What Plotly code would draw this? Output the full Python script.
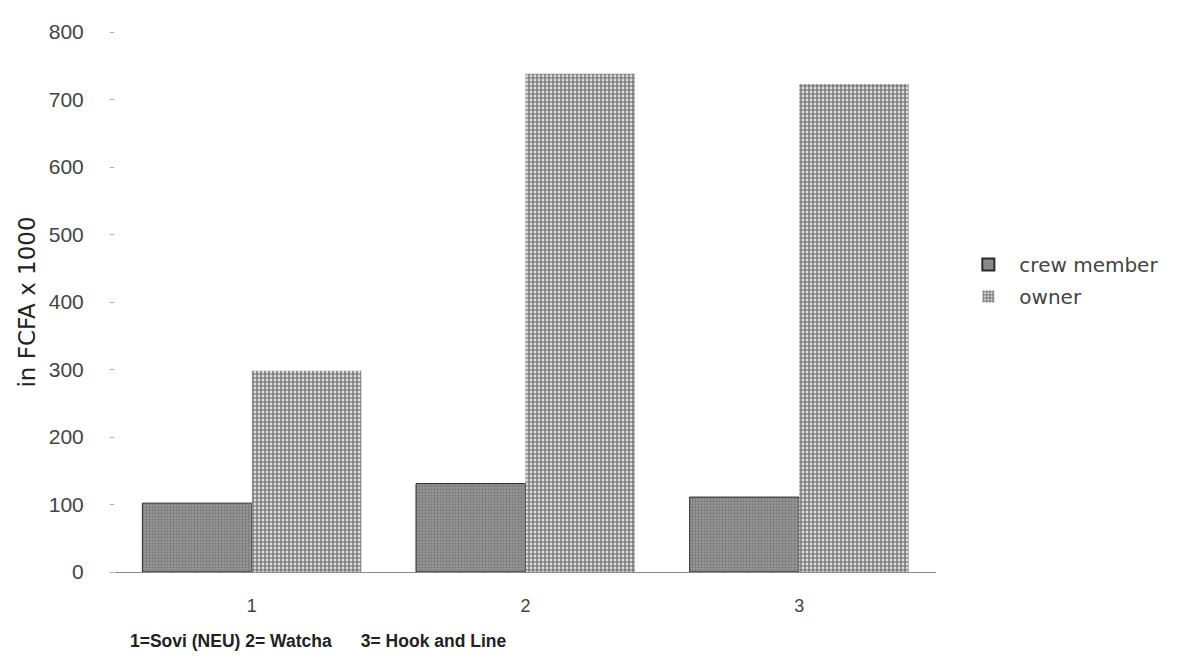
import plotly.graph_objects as go

categories = ["1", "2", "3"]
crew_member = [102, 131, 111]
owner = [298, 738, 723]
y_ticks = [0, 100, 200, 300, 400, 500, 600, 700, 800]
x_title = "1=Sovi (NEU) 2= Watcha\u00a0\u00a0\u00a0\u00a0\u00a0 3= Hook and Line"
y_title = "in FCFA x 1000"

fig = go.Figure()
fig.add_trace(go.Bar(
    x=categories, y=crew_member, name="crew member", legendgroup="a",
    marker=dict(color="#7a7a7a",
                line=dict(color="#2a2a2a", width=1),
                pattern=dict(shape=".", fgcolor="#565656", bgcolor="#999999",
                             size=3, solidity=0.45)),
))
fig.add_trace(go.Bar(
    x=categories, y=owner, name="owner", legendgroup="b",
    marker=dict(color="white",
                line=dict(color="#bbbbbb", width=0),
                pattern=dict(shape=".", fgcolor="#000000", bgcolor="white",
                             size=4, solidity=0.7)),
))

fig.update_layout(
    width=1186, height=668,
    paper_bgcolor="white", plot_bgcolor="white",
    margin=dict(l=107, r=258, t=22, b=104),
    barmode="group", bargap=0.2, bargroupgap=0,
    font=dict(family="Liberation Sans, Arial, sans-serif", size=18, color="#444444"),
    showlegend=True,
    legend=dict(x=1.026, y=0.54, xanchor="left", yanchor="middle",
                font=dict(size=20, color="#444444", family="DejaVu Sans, sans-serif"),
                itemsizing="constant", itemwidth=52, tracegroupgap=3,
                bgcolor="rgba(0,0,0,0)"),
    xaxis=dict(
        type="category",
        showline=True, linecolor="#8a8a8a", linewidth=1,
        showgrid=False, ticks="outside", ticklen=17, tickcolor="rgba(0,0,0,0)",
        tickfont=dict(size=18, color="#444444"),
    ),
    yaxis=dict(
        range=[0, 800], tickvals=y_ticks,
        showgrid=False, showline=False, zeroline=False,
        ticks="outside", ticklen=4, tickcolor="#aaaaaa", tickwidth=1,
        ticklabelstandoff=22,
        tickfont=dict(size=21, color="#444444"),
        title=dict(text=y_title,
                   font=dict(size=23, color="#222222", family="DejaVu Sans, sans-serif"),
                   standoff=6),
    ),
    annotations=[dict(
        text="<b>" + x_title + "</b>",
        xref="paper", yref="paper", x=0.016, y=-0.128,
        xanchor="left", yanchor="middle", showarrow=False,
        font=dict(size=17.5, color="#222222", family="Liberation Sans, Arial, sans-serif"),
    )],
)

fig.write_html("out.html")
